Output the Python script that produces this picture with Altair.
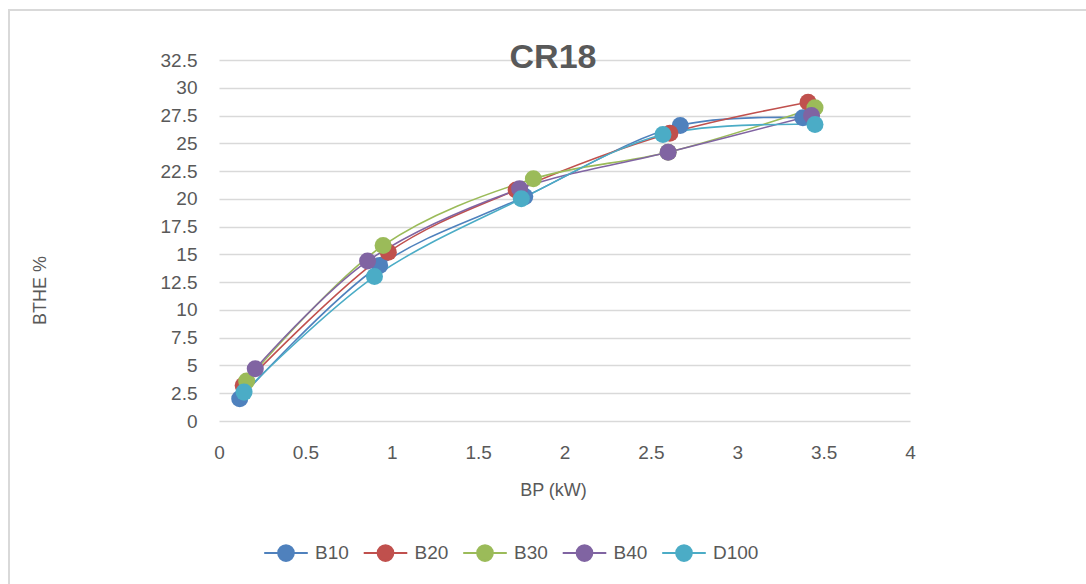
import altair as alt
import pandas as pd

series = ["B10", "B20", "B30", "B40", "D100"]
colors = ["#4F81BD", "#C0504D", "#9BBB59", "#8064A2", "#4BACC6"]

bp_b10 = [0.12, 0.93, 1.77, 2.67, 3.38]
bthe_b10 = [2.0, 14.0, 20.2, 26.6, 27.3]
bp_b20 = [0.14, 0.98, 1.72, 2.61, 3.41]
bthe_b20 = [3.2, 15.2, 20.8, 25.9, 28.7]
bp_b30 = [0.16, 0.95, 1.82, 2.60, 3.45]
bthe_b30 = [3.6, 15.8, 21.8, 24.2, 28.2]
bp_b40 = [0.21, 0.86, 1.74, 2.60, 3.43]
bthe_b40 = [4.7, 14.4, 20.9, 24.2, 27.5]
bp_d100 = [0.145, 0.90, 1.75, 2.57, 3.45]
bthe_d100 = [2.6, 13.0, 20.0, 25.8, 26.7]

xs = [bp_b10, bp_b20, bp_b30, bp_b40, bp_d100]
ys = [bthe_b10, bthe_b20, bthe_b30, bthe_b40, bthe_d100]

rows = []
for s, xv, yv in zip(series, xs, ys):
    for i, (a, b) in enumerate(zip(xv, yv)):
        rows.append({"series": s, "BP": a, "BTHE": b, "idx": i})
df = pd.DataFrame(rows)

y_ticks = [i * 2.5 for i in range(14)]
x_ticks = [i * 0.5 for i in range(9)]

FONT = "Liberation Sans"
TXT = "#595959"

color_scale = alt.Scale(domain=series, range=colors)

legend_path = ("M-1,0 L1,0 M-0.36,0 A0.36,0.36 0 1,1 0.36,0 "
               "A0.36,0.36 0 1,1 -0.36,0 Z")

legend = alt.Legend(
    orient="none", legendX=44, legendY=470, direction="horizontal",
    title=None, columns=5, gridAlign="all",
    symbolType=legend_path, symbolSize=1900, symbolStrokeWidth=2,
    labelFont=FONT, labelFontSize=19, labelColor=TXT,
    labelOffset=6, columnPadding=-1.5, symbolOpacity=1)

x_axis = alt.Axis(values=x_ticks, labelExpr="datum.value + ''", grid=False, domain=False,
                  ticks=False, labelPadding=22, labelFontSize=19, labelFlush=False,
                  labelColor=TXT, labelFont=FONT, labelOverlap=False,
                  title="BP (kW)",
                  titleFont=FONT, titleFontSize=18, titleFontWeight="normal",
                  titleColor=TXT, titleX=334, titleY=69,
                  titleBaseline="middle", titleAlign="center")
y_axis = alt.Axis(values=y_ticks, labelExpr="datum.value + ''", grid=True,
                  gridColor="#d9d9d9",
                  gridWidth=1.3, domain=False, ticks=False, labelPadding=22,
                  labelFontSize=19, labelColor=TXT, labelFont=FONT,
                  labelOverlap=False,
                  title="BTHE %", titleFont=FONT, titleFontSize=18,
                  titleFontWeight="normal", titleColor=TXT, titleAngle=-90,
                  titleX=-179, titleY=230, titleBaseline="middle",
                  titleAlign="center")

def xe():
    return alt.X("BP:Q", scale=alt.Scale(domain=[0, 4], nice=False), axis=x_axis)

def ye():
    return alt.Y("BTHE:Q", scale=alt.Scale(domain=[0, 32.5], nice=False), axis=y_axis)

lines = alt.Chart(df).mark_line(interpolate="catmull-rom", strokeWidth=1.6).encode(
    x=xe(), y=ye(),
    color=alt.Color("series:N", scale=color_scale, legend=legend),
    order="idx:Q",
    detail="series:N",
)

points = alt.Chart(df).mark_point(filled=True, size=290, opacity=1).encode(
    x=xe(), y=ye(),
    color=alt.Color("series:N", scale=color_scale, legend=legend),
)

one = pd.DataFrame({"title": ["CR18"]})
frame = alt.Chart(one).mark_rect(fill=None, stroke="#d9d9d9", strokeWidth=2).encode(
    x=alt.value(9 - 219), x2=alt.value(1120 - 219),
    y=alt.value(10 - 60), y2=alt.value(620 - 60),
)
title = alt.Chart(one).mark_text(fontSize=34, fontWeight="bold", color=TXT, font=FONT,
                                 align="center", baseline="middle").encode(
    text="title:N", x=alt.value(334), y=alt.value(-2),
)

chart = alt.layer(frame, lines, points, title).properties(
    width=691, height=361,
    autosize=alt.AutoSizeParams(type="none"),
    padding={"left": 219, "top": 60, "right": 176, "bottom": 163},
).configure(background="white").configure_view(stroke=None)

chart.save("out.html", embed_options={"renderer": "svg", "actions": False})
